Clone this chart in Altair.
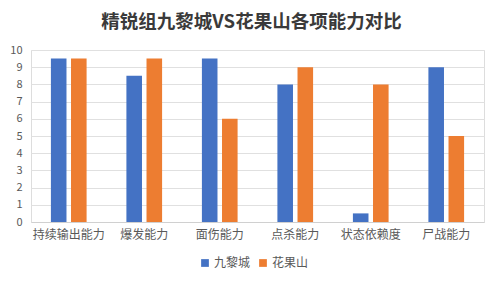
import altair as alt
import pandas as pd

categories = ["持续输出能力", "爆发能力", "面伤能力", "点杀能力", "状态依赖度", "尸战能力"]
series_names = ["九黎城", "花果山"]
jiuli = [9.5, 8.5, 9.5, 8, 0.5, 9]
huaguo = [9.5, 9.5, 6, 9, 8, 5]
y_ticks = list(range(0, 11))

rows = []
for c, a, b in zip(categories, jiuli, huaguo):
    rows.append({"cat": c, "series": series_names[0], "value": a})
    rows.append({"cat": c, "series": series_names[1], "value": b})
df = pd.DataFrame(rows)

FONT = "Noto Sans CJK SC"

chart = alt.Chart(df).mark_bar().encode(
    x=alt.X("cat:N", sort=categories,
            scale=alt.Scale(paddingInner=0, paddingOuter=0),
            axis=alt.Axis(title=None, labelAngle=0, ticks=False, labelPadding=7,
                          labelFontSize=12, labelColor="#595959", labelFont=FONT,
                          domainColor="#d0d0d0", grid=False)),
    xOffset=alt.XOffset("series:N", sort=series_names,
                        scale=alt.Scale(paddingInner=0.225, paddingOuter=0.99)),
    y=alt.Y("value:Q", scale=alt.Scale(domain=[0, 10], nice=False),
            axis=alt.Axis(title=None, values=y_ticks, ticks=False, domain=False,
                          labelPadding=9, labelFontSize=11, labelColor="#595959",
                          labelFont=FONT, gridColor="#e0e0e0")),
    color=alt.Color("series:N", sort=series_names,
                    scale=alt.Scale(domain=series_names, range=["#4472C4", "#ED7D31"]),
                    legend=alt.Legend(title=None, orient="none", legendX=168, legendY=207,
                                      direction="horizontal", symbolType="square",
                                      symbolSize=60, labelFontSize=12, labelColor="#595959",
                                      labelFont=FONT, columnPadding=6, labelOffset=3)),
).properties(
    width=453, height=172,
    title=alt.TitleParams("精锐组九黎城VS花果山各项能力对比", fontSize=18.5, font=FONT,
                          fontWeight="bold", color="#3a3a3a", anchor="middle",
                          dx=-6, offset=13),
    autosize=alt.AutoSizeParams(type="none"),
    padding={"left": 31, "top": 50, "right": 16, "bottom": 62},
).configure_view(stroke=None).configure(background="white")

chart.save("out.html", embed_options={"renderer": "svg", "actions": False})
